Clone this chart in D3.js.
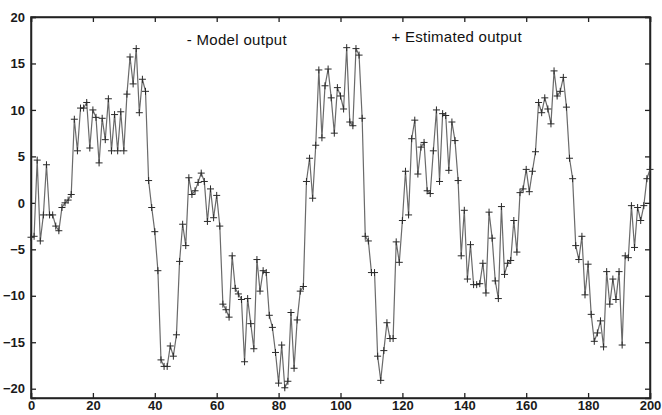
<!DOCTYPE html>
<html>
<head>
<meta charset="utf-8">
<script src="https://cdn.jsdelivr.net/npm/d3@7"></script>
<style>
  body { margin: 0; background: #fff; }
  text { font-family: "Liberation Sans", Arial, sans-serif; }
</style>
</head>
<body>
<div class="chart"></div>
<script>
var svgWidth = 662;
var svgHeight = 415;

var margin = { top: 17, right: 12, bottom: 17, left: 31 };
var width = svgWidth - margin.left - margin.right;
var height = svgHeight - margin.top - margin.bottom;

// sample values (k = 0..200)
var outputValues = [
  -3.7, -3.6, 4.6, -4.1, -1.3, 4.1, -1.3, -1.3, -2.5, -3.0,
  -0.5, 0.0, 0.3, 0.9, 9.0, 5.6, 10.2, 10.2, 10.8, 5.9,
  10.0, 9.2, 4.3, 9.1, 6.8, 11.2, 5.6, 9.5, 5.6, 9.8,
  5.6, 11.7, 15.7, 12.8, 16.6, 9.7, 13.3, 12.0, 2.4, -0.5,
  -3.1, -7.3, -16.9, -17.6, -17.6, -15.4, -16.5, -14.2, -6.3, -2.3,
  -4.6, 2.7, 0.9, 1.3, 2.2, 3.2, 2.3, -2.0, 1.5, -1.6,
  0.8, -2.5, -10.9, -11.5, -12.3, -5.7, -9.2, -9.8, -10.4, -17.1,
  -10.3, -13.0, -15.7, -6.1, -9.5, -7.3, -7.5, -12.1, -13.4, -16.1,
  -19.4, -15.3, -19.9, -19.2, -11.8, -17.8, -12.6, -9.5, -9.0, 2.3,
  4.8, 0.5, 6.2, 14.3, 7.0, 12.6, 14.4, 11.3, 7.5, 12.4,
  11.5, 10.1, 16.7, 8.7, 8.3, 16.6, 15.9, 9.1, -3.6, -4.1,
  -7.5, -7.5, -16.5, -19.1, -15.9, -12.9, -14.6, -14.6, -4.2, -6.4,
  -1.9, 3.4, -1.3, 6.9, 8.9, 3.1, 6.0, 6.5, 1.3, 1.0,
  5.6, 10.0, 2.3, 9.6, 9.4, 3.5, 8.7, 6.7, 2.4, -5.7,
  -0.8, -8.2, -4.5, -8.8, -8.8, -8.7, -6.5, -9.7, -1.0, -3.8,
  -8.4, -10.3, -0.4, -7.7, -6.5, -6.2, -1.9, -5.3, 1.1, 1.5,
  3.6, 1.2, 3.4, 5.5, 10.8, 9.7, 11.3, 10.1, 8.5, 14.2,
  11.5, 12.0, 13.5, 10.3, 4.8, 2.6, -4.6, -6.1, -3.6, -9.9,
  -6.6, -12.0, -14.9, -14.0, -12.7, -15.5, -7.4, -10.9, -8.2, -10.4,
  -7.4, -15.3, -5.7, -5.9, -0.3, -4.8, -0.5, -1.9, -0.3, 2.6,
  3.6
];

var xTicks = [0, 20, 40, 60, 80, 100, 120, 140, 160, 180, 200];
var yTicks = [-20, -15, -10, -5, 0, 5, 10, 15, 20];
var legendLabels = ["- Model output", "+ Estimated output"];

var svg = d3.select(".chart")
  .append("svg")
  .attr("width", svgWidth)
  .attr("height", svgHeight);

var chartGroup = svg.append("g")
  .attr("transform", `translate(${margin.left}, ${margin.top})`);

var xScale = d3.scaleLinear().domain([0, 200]).range([0, width]);
var yScale = d3.scaleLinear().domain([-21, 20]).range([height, 0]);

// plot frame
chartGroup.append("rect")
  .attr("width", width)
  .attr("height", height)
  .attr("fill", "#fff")
  .attr("stroke", "#222")
  .attr("stroke-width", 1.5);

// axes with inward ticks, matlab style
var bottomAxis = d3.axisBottom(xScale).tickValues(xTicks).tickSize(-5).tickPadding(3);
var leftAxis = d3.axisLeft(yScale).tickValues(yTicks).tickSize(-5).tickPadding(5);
var topAxis = d3.axisTop(xScale).tickValues(xTicks).tickSize(-5).tickFormat("");
var rightAxis = d3.axisRight(yScale).tickValues(yTicks).tickSize(-5).tickFormat("");

var xAxis = chartGroup.append("g")
  .attr("transform", `translate(0, ${height})`)
  .call(bottomAxis);
var yAxis = chartGroup.append("g").call(leftAxis);
chartGroup.append("g").call(topAxis);
chartGroup.append("g").attr("transform", `translate(${width}, 0)`).call(rightAxis);

chartGroup.selectAll(".domain").attr("stroke", "#222").attr("stroke-width", 1.5);
chartGroup.selectAll(".tick line").attr("stroke", "#222").attr("stroke-width", 1.3);
chartGroup.selectAll(".tick text")
  .attr("fill", "#1a1a1a")
  .style("font-size", "13px")
  .style("font-weight", "bold");
yAxis.selectAll(".tick text").attr("x", -6);

// model output line
var line = d3.line()
  .x((d, i) => xScale(i))
  .y(d => yScale(d));

chartGroup.append("path")
  .datum(outputValues)
  .attr("d", line)
  .attr("fill", "none")
  .attr("stroke", "#6a6a6a")
  .attr("stroke-width", 1.2);

// estimated output markers
var s = 3.5;
chartGroup.append("g")
  .selectAll("path")
  .data(outputValues)
  .enter()
  .append("path")
  .attr("d", (d, i) => {
    var x = xScale(i), y = yScale(d);
    return `M${x - s},${y}H${x + s}M${x},${y - s}V${y + s}`;
  })
  .attr("stroke", "#2a2a2a")
  .attr("stroke-width", 1);

// legend texts
chartGroup.append("text")
  .attr("x", xScale(50.3))
  .attr("y", 27.5)
  .attr("fill", "#111")
  .attr("textLength", 100)
  .style("font-size", "15px")
  .text(legendLabels[0]);

chartGroup.append("text")
  .attr("x", xScale(116.5))
  .attr("y", 25)
  .attr("fill", "#111")
  .attr("textLength", 130)
  .style("font-size", "15px")
  .text(legendLabels[1]);
</script>
</body>
</html>
